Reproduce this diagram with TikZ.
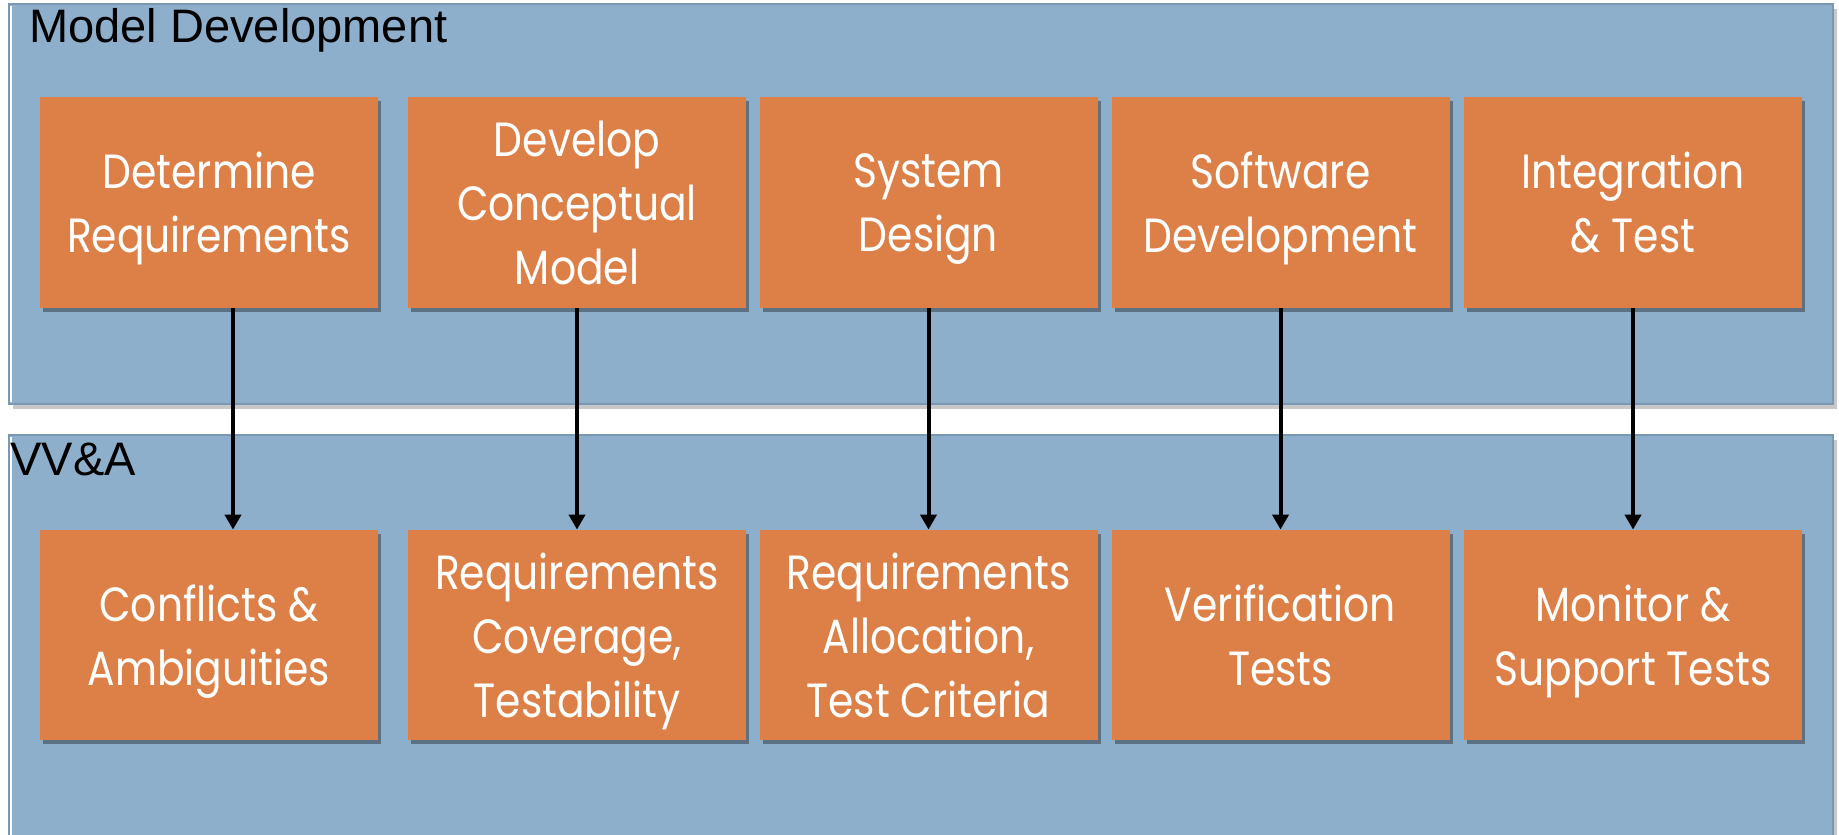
\documentclass[tikz,border=0pt]{standalone}
\usepackage{fontspec}
\setmainfont{Liberation Sans}
\newfontfamily\boxfont[FakeStretch=0.85]{Poppins}
\usetikzlibrary{arrows.meta,shadows}
\definecolor{panelblue}{HTML}{8EAFCB}
\definecolor{paneledge}{HTML}{7A98B4}
\definecolor{boxorange}{HTML}{DD8047}
\begin{document}
\begin{tikzpicture}[x=0.5pt,y=-0.5pt,
  panel/.style={fill=panelblue, draw=paneledge, line width=0.6pt},
  stepbox/.style={fill=boxorange, minimum width=169pt, minimum height=105pt, inner sep=0pt,
    text=white, font=\boxfont\fontsize{24}{32}\selectfont, align=center, text depth=0pt,
    drop shadow={shadow xshift=1.5pt, shadow yshift=-2pt, opacity=0.35, fill=black}},
  arr/.style={line width=2pt, -{Triangle[width=8pt,length=7.5pt]}},
  paneltitle/.style={anchor=base west, inner sep=0pt, font=\fontsize{23.5}{28}\selectfont}
]
\useasboundingbox (0,0) rectangle (1839,834);
\fill[white] (0,0) rectangle (1839,834);
% panel shadows
\fill[black, opacity=0.22] (13,9) rectangle (1837,409);
\fill[black, opacity=0.22] (13,440) rectangle (1837,840);
% panels
\draw[panel] (9,4) rectangle (1833,404);
\draw[panel] (9,435) rectangle (1833,840);
\draw[white, line width=1.2pt] (11,6) -- (11,402);
\draw[white, line width=1.2pt] (11,437) -- (11,840);
\node[paneltitle] (mdt) at (29,43) {Model Development};
\node[paneltitle] (vvt) at (10,475) {VV\&A};
% top row
\node[stepbox] (t1) at (209,202.5) {Determine\\Requirements};
\node[stepbox] (t2) at (577,202.5) {Develop\\Conceptual\\Model};
\node[stepbox] (t3) at (928.5,202.5) {System\\Design};
\node[stepbox] (t4) at (1280.5,202.5) {Software\\Development};
\node[stepbox] (t5) at (1633,202.5) {Integration\\\& Test};
% bottom row
\node[stepbox] (b1) at (209,635) {Conflicts \&\\Ambiguities};
\node[stepbox] (b2) at (577,635) {Requirements\\Coverage,\\Testability};
\node[stepbox] (b3) at (928.5,635) {Requirements\\Allocation,\\Test Criteria};
\node[stepbox] (b4) at (1280.5,635) {Verification\\Tests};
\node[stepbox] (b5) at (1633,635) {Monitor \&\\Support Tests};
% arrows
\draw[arr] ([xshift=12pt]t1.south) -- ([xshift=12pt]b1.north);
\draw[arr] (t2.south) -- (b2.north);
\draw[arr] (t3.south) -- (b3.north);
\draw[arr] (t4.south) -- (b4.north);
\draw[arr] (t5.south) -- (b5.north);
\end{tikzpicture}
\end{document}
